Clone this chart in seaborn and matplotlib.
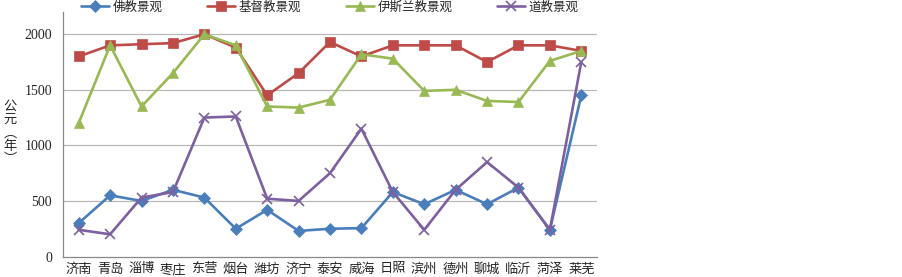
import matplotlib
matplotlib.use("Agg")
import matplotlib.pyplot as plt
from matplotlib.ticker import MultipleLocator, FixedLocator, NullFormatter
import seaborn as sns
import pandas as pd

cities = ["济南", "青岛", "淄博", "枣庄", "东营", "烟台", "潍坊", "济宁", "泰安",
          "威海", "日照", "滨州", "德州", "聊城", "临沂", "菏泽", "莱芜"]
buddhist = [300, 550, 500, 600, 530, 250, 420, 230, 250, 255, 580, 470, 600, 470, 620, 240, 1450]
christian = [1800, 1900, 1910, 1920, 2000, 1880, 1450, 1650, 1930, 1800, 1900, 1900, 1900, 1750, 1900, 1900, 1850]
islamic = [1200, 1900, 1350, 1650, 2000, 1900, 1350, 1340, 1410, 1820, 1780, 1490, 1500, 1400, 1390, 1760, 1850]
taoist = [240, 200, 530, 580, 1250, 1260, 520, 500, 750, 1150, 580, 240, 600, 850, 620, 240, 1750]

series_names = ["佛教景观", "基督教景观", "伊斯兰教景观", "道教景观"]
series_vals = [buddhist, christian, islamic, taoist]

rows = []
for name, vals in zip(series_names, series_vals):
    for i, v in enumerate(vals):
        rows.append({"pos": i, "city": cities[i], "series": name, "year": v})
df = pd.DataFrame(rows)

palette = {"佛教景观": "#4A7EBB", "基督教景观": "#BE4B48", "伊斯兰教景观": "#98B954", "道教景观": "#7D60A0"}
markers = {"佛教景观": "D", "基督教景观": "s", "伊斯兰教景观": "^", "道教景观": "x"}

sns.set_style("white")
plt.rcParams["font.family"] = ["Liberation Serif", "Noto Sans CJK SC"]

fig = plt.figure(figsize=(9.03, 2.77), dpi=100)
ax = fig.add_axes([63 / 903, 20.5 / 277, 534 / 903, 244.5 / 277])

for name in series_names:
    sub = df[df["series"] == name]
    sns.lineplot(data=sub, x="pos", y="year", color=palette[name], marker=markers[name],
                 markersize=7 if name != "佛教景观" else 6, linewidth=1.9,
                 markeredgecolor=palette[name], markeredgewidth=1.2 if name == "道教景观" else 0.5,
                 label=name, ax=ax)

ax.set_xlim(-0.5, len(cities) - 0.5)
ax.set_ylim(0, 2200)
ax.yaxis.set_major_locator(FixedLocator([0, 500, 1000, 1500, 2000]))
ax.yaxis.set_minor_locator(MultipleLocator(100))
ax.yaxis.set_minor_formatter(NullFormatter())
ax.set_xticks(range(len(cities)))
ax.set_xticklabels(cities)
ax.xaxis.set_minor_locator(FixedLocator([i - 0.5 for i in range(len(cities) + 1)]))
ax.tick_params(axis="x", which="major", length=0, labelsize=9.5, pad=5)
ax.tick_params(axis="x", which="minor", length=4, width=0.8, color="#888888", direction="out")
ax.tick_params(axis="y", which="major", length=5, width=0.8, color="#888888", labelsize=10, direction="out", pad=3)
ax.tick_params(axis="y", which="minor", length=3, width=0.6, color="#888888", direction="out")

for y in [500, 1000, 1500, 2000]:
    ax.axhline(y, color="#B8B8B8", linewidth=0.9, zorder=0)

for s in ["top", "right"]:
    ax.spines[s].set_visible(False)
for s in ["left", "bottom"]:
    ax.spines[s].set_color("#888888")
    ax.spines[s].set_linewidth(0.9)

ax.set_xlabel("")
ax.set_ylabel("")
fig.text(10 / 903, 1 - 133 / 277, "公\n元\n︵\n年\n︶", ha="center", va="center",
         fontsize=9.5, linespacing=1.05, family=["Noto Sans CJK SC", "DejaVu Sans"])

ax.legend(loc="center", bbox_to_anchor=(0.5, 1.02), ncol=4, frameon=False,
          fontsize=9, handlelength=2.2, columnspacing=3.6, handletextpad=0.3,
          borderaxespad=0)

fig.savefig("out.png", dpi=100)
